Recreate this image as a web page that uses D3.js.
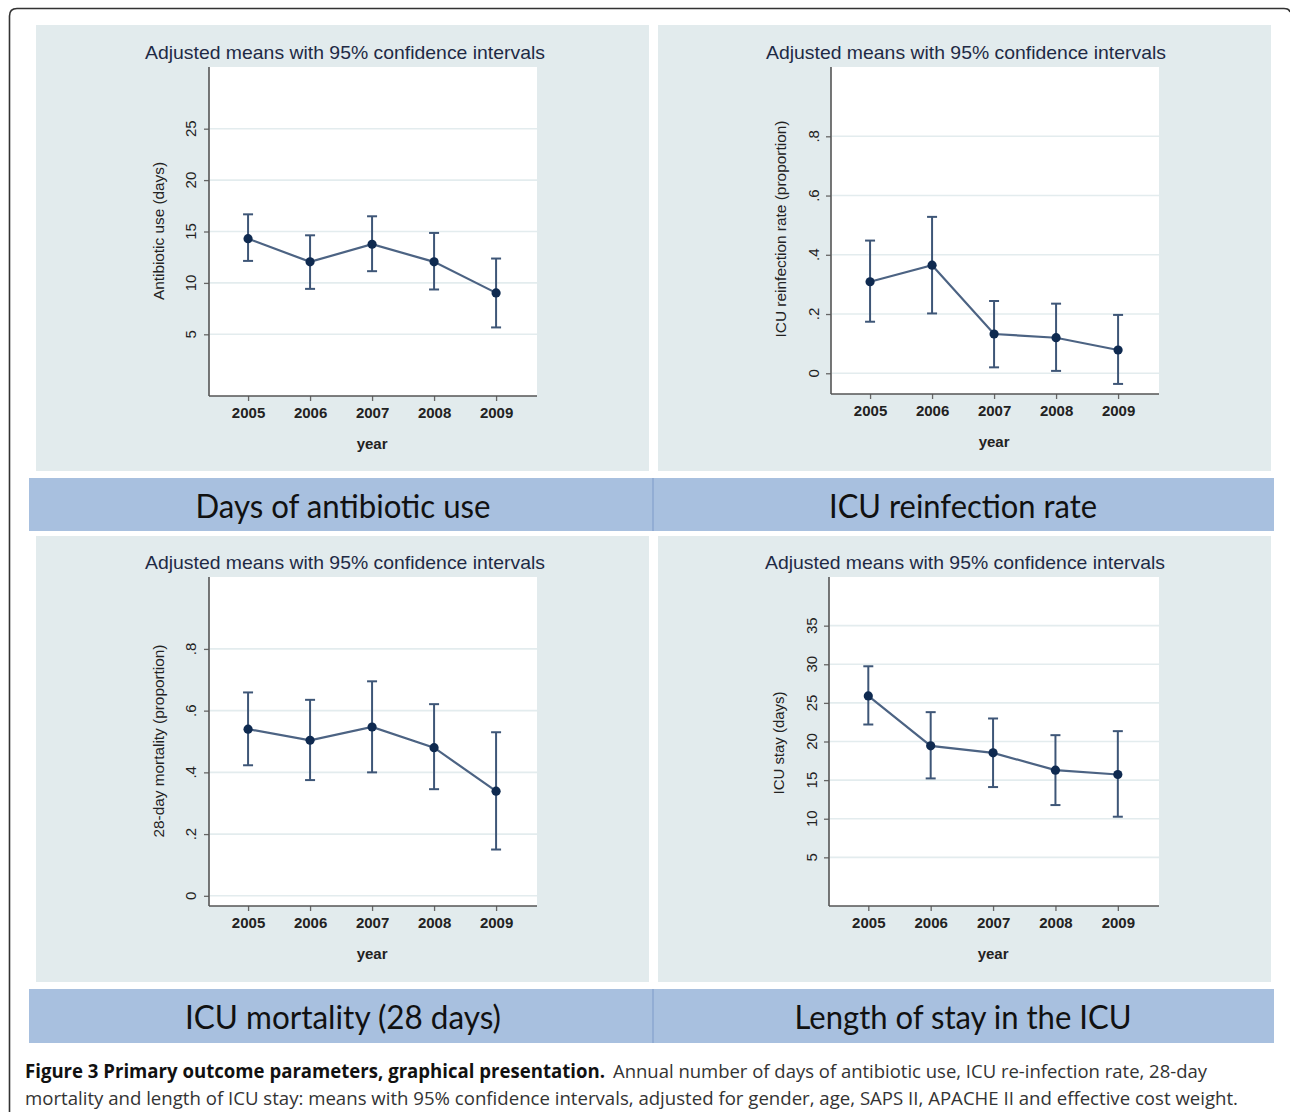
<!DOCTYPE html>
<html>
<head>
<meta charset="utf-8">
<script src="https://cdn.jsdelivr.net/npm/d3@7"></script>
<style>
  html, body { margin: 0; padding: 0; background: #ffffff; }
  svg { display: block; }
</style>
</head>
<body>
<svg id="chart" width="1290" height="1112"></svg>
<script>
// ---------------- DATA ----------------
const years = [2005, 2006, 2007, 2008, 2009];

const antibioticMean = [14.3, 12.05, 13.76, 12.05, 9.03];
const antibioticLow  = [12.14, 9.42, 11.14, 9.36, 5.67];
const antibioticHigh = [16.67, 14.63, 16.48, 14.86, 12.37];
const antibioticTicks = [5, 10, 15, 20, 25];

const reinfMean = [0.309, 0.365, 0.1325, 0.120, 0.0786];
const reinfLow  = [0.174, 0.202, 0.020, 0.008, -0.036];
const reinfHigh = [0.448, 0.528, 0.244, 0.235, 0.197];
const reinfTicks = [0, 0.2, 0.4, 0.6, 0.8];

const mortMean = [0.540, 0.504, 0.547, 0.480, 0.339];
const mortLow  = [0.423, 0.375, 0.400, 0.3455, 0.150];
const mortHigh = [0.659, 0.635, 0.695, 0.621, 0.530];
const mortTicks = [0, 0.2, 0.4, 0.6, 0.8];

const stayMean = [25.9, 19.44, 18.53, 16.29, 15.73];
const stayLow  = [22.2, 15.22, 14.1, 11.77, 10.26];
const stayHigh = [29.74, 23.8, 22.98, 20.82, 21.34];
const stayTicks = [5, 10, 15, 20, 25, 30, 35];

const plotTitle = "Adjusted means with 95% confidence intervals";
const xTitle = "year";
const bannerLabels = ["Days of antibiotic use", "ICU reinfection rate", "ICU mortality (28 days)", "Length of stay in the ICU"];
const captionBold = "Figure 3 Primary outcome parameters, graphical presentation.";
const captionRest1 = "Annual number of days of antibiotic use, ICU re-infection rate, 28-day";
const captionLine2 = "mortality and length of ICU stay: means with 95% confidence intervals, adjusted for gender, age, SAPS II, APACHE II and effective cost weight.";

// ---------------- LAYOUT ----------------
const svg = d3.select("#chart");
const FONT = "'Liberation Sans', Arial, sans-serif";
const NAVY = "#1e2a45";

// outer rounded frame
svg.append("path")
  .attr("d", "M 9.5 1112 L 9.5 16 Q 9.5 8.5 17 8.5 L 1284 8.5 Q 1289 8.5 1290 12")
  .attr("fill", "none").attr("stroke", "#333").attr("stroke-width", 1.6);

const panels = [
  { bg: [36, 25, 613, 446], ax: 209, right: 537, top: 67, bottom: 396, domain: [-1, 31],
    mean: antibioticMean, low: antibioticLow, high: antibioticHigh, ticks: antibioticTicks,
    fmt: d => String(d), ylabel: "Antibiotic use (days)", ylabelLen: 138, ylabelX: 158, ylabelY: 231, tickLabelX: 190, titleX: 345, titleY: 59 },
  { bg: [658, 25, 613, 446], ax: 831, right: 1159, top: 67, bottom: 394, domain: [-0.07, 1.034],
    mean: reinfMean, low: reinfLow, high: reinfHigh, ticks: reinfTicks,
    fmt: d => d === 0 ? "0" : String(d).replace("0.", "."), ylabel: "ICU reinfection rate (proportion)", ylabelLen: 217, ylabelX: 780, ylabelY: 229, tickLabelX: 813, titleX: 966, titleY: 59 },
  { bg: [36, 536, 613, 446], ax: 209, right: 537, top: 577, bottom: 906, domain: [-0.033, 1.033],
    mean: mortMean, low: mortLow, high: mortHigh, ticks: mortTicks,
    fmt: d => d === 0 ? "0" : String(d).replace("0.", "."), ylabel: "28-day mortality (proportion)", ylabelLen: 193, ylabelX: 158, ylabelY: 741, tickLabelX: 190, titleX: 345, titleY: 569 },
  { bg: [658, 536, 613, 446], ax: 829, right: 1159, top: 577, bottom: 906, domain: [-1.3, 41.3],
    mean: stayMean, low: stayLow, high: stayHigh, ticks: stayTicks,
    fmt: d => String(d), ylabel: "ICU stay (days)", ylabelLen: 103, ylabelX: 778, ylabelY: 743, tickLabelX: 811, titleX: 965, titleY: 569 }
];

panels.forEach(p => {
  const g = svg.append("g");
  // panel background
  g.append("rect").attr("x", p.bg[0]).attr("y", p.bg[1]).attr("width", p.bg[2]).attr("height", p.bg[3])
    .attr("fill", "#e2ebed");
  // white plot region
  g.append("rect").attr("x", p.ax).attr("y", p.top).attr("width", p.right - p.ax).attr("height", p.bottom - p.top)
    .attr("fill", "#ffffff");

  const x = d3.scaleLinear().domain([2004.37, 2009.66]).range([p.ax, p.right]);
  const y = d3.scaleLinear().domain(p.domain).range([p.bottom, p.top]);

  // title
  g.append("text").attr("x", p.titleX - 200).attr("y", p.titleY)
    .attr("textLength", 400).attr("lengthAdjust", "spacingAndGlyphs")
    .attr("font-family", FONT).attr("font-size", 19).attr("fill", NAVY).text(plotTitle);

  // grid lines
  g.selectAll(".grid").data(p.ticks).enter().append("line")
    .attr("x1", p.ax + 1).attr("x2", p.right)
    .attr("y1", d => y(d)).attr("y2", d => y(d))
    .attr("stroke", "#e3ecee").attr("stroke-width", 1.6);

  // y axis
  const yAxis = d3.axisLeft(y).tickValues(p.ticks).tickSize(5).tickFormat("");
  const ya = g.append("g").attr("transform", `translate(${p.ax},0)`).call(yAxis);
  ya.select(".domain").remove();
  ya.selectAll(".tick line").attr("stroke", "#666").attr("stroke-width", 1.3);
  g.append("line").attr("x1", p.ax).attr("x2", p.ax).attr("y1", p.top).attr("y2", p.bottom)
    .attr("stroke", "#555").attr("stroke-width", 1.6);

  // y tick labels (rotated)
  g.selectAll(".ytl").data(p.ticks).enter().append("text")
    .attr("transform", d => `translate(${p.tickLabelX},${y(d)}) rotate(-90)`)
    .attr("text-anchor", "middle").attr("dominant-baseline", "central")
    .attr("font-family", FONT).attr("font-size", 15).attr("fill", "#222")
    .text(p.fmt);

  // y label
  g.append("text").attr("transform", `translate(${p.ylabelX},${p.ylabelY + p.ylabelLen / 2}) rotate(-90)`)
    .attr("dominant-baseline", "central")
    .attr("textLength", p.ylabelLen).attr("lengthAdjust", "spacingAndGlyphs")
    .attr("font-family", FONT).attr("font-size", 15).attr("fill", "#222").text(p.ylabel);

  // x axis
  const xAxis = d3.axisBottom(x).tickValues(years).tickSize(5).tickFormat(d3.format("d")).tickPadding(6);
  const xa = g.append("g").attr("transform", `translate(0,${p.bottom})`).call(xAxis);
  xa.select(".domain").remove();
  xa.selectAll(".tick line").attr("stroke", "#666").attr("stroke-width", 1.3);
  xa.selectAll(".tick text").attr("font-family", FONT).attr("font-size", 15).attr("fill", "#222")
    .attr("font-weight", 600);
  g.append("line").attr("x1", p.ax).attr("x2", p.right).attr("y1", p.bottom).attr("y2", p.bottom)
    .attr("stroke", "#555").attr("stroke-width", 1.6);

  g.append("text").attr("x", x(2007)).attr("y", p.bottom + 53).attr("text-anchor", "middle")
    .attr("font-family", FONT).attr("font-size", 15).attr("font-weight", 600).attr("fill", "#222").text(xTitle);

  // error bars
  const CI = "#3e5677";
  years.forEach((yr, i) => {
    const cx = x(yr);
    g.append("line").attr("x1", cx).attr("x2", cx).attr("y1", y(p.low[i])).attr("y2", y(p.high[i]))
      .attr("stroke", CI).attr("stroke-width", 2);
    [p.low[i], p.high[i]].forEach(v => {
      g.append("line").attr("x1", cx - 5).attr("x2", cx + 5).attr("y1", y(v)).attr("y2", y(v))
        .attr("stroke", CI).attr("stroke-width", 2);
    });
  });

  // connecting line
  const line = d3.line().x((d, i) => x(years[i])).y(d => y(d));
  g.append("path").datum(p.mean).attr("d", line).attr("fill", "none")
    .attr("stroke", "#4c6383").attr("stroke-width", 2.2);

  // points
  g.selectAll(".pt").data(p.mean).enter().append("circle")
    .attr("cx", (d, i) => x(years[i])).attr("cy", d => y(d)).attr("r", 4.6)
    .attr("fill", "#0f2a50");
});

// ---------------- BANNERS ----------------
const banners = [
  { y: 478, h: 53 },
  { y: 989, h: 54 }
];
const bannerWidths = [295, 268, 316, 337];
banners.forEach((b, bi) => {
  svg.append("rect").attr("x", 29).attr("y", b.y).attr("width", 1245).attr("height", b.h)
    .attr("fill", "#a8c0df");
  svg.append("line").attr("x1", 653).attr("x2", 653).attr("y1", b.y).attr("y2", b.y + b.h)
    .attr("stroke", "#8ba7d1").attr("stroke-width", 1.5);
  [[343, 0], [963, 1]].forEach(([cx, k]) => {
    const idx = bi * 2 + k;
    const w = bannerWidths[idx];
    svg.append("text").attr("x", cx - w / 2).attr("y", b.y + 40)
      .attr("textLength", w).attr("lengthAdjust", "spacingAndGlyphs")
      .attr("font-family", "Lato, 'Open Sans', sans-serif").attr("font-size", 32)
      .attr("fill", "#111").text(bannerLabels[idx]);
  });
});

// ---------------- CAPTION ----------------
const capFont = "'Liberation Sans Narrow', 'Open Sans', sans-serif";
svg.append("text").attr("x", 25).attr("y", 1078).attr("font-family", capFont).attr("font-size", 19)
  .attr("font-weight", "bold").attr("fill", "#111")
  .attr("textLength", 580).attr("lengthAdjust", "spacingAndGlyphs").text(captionBold);
svg.append("text").attr("x", 613).attr("y", 1078).attr("font-family", capFont).attr("font-size", 19)
  .attr("fill", "#333")
  .attr("textLength", 594).attr("lengthAdjust", "spacingAndGlyphs").text(captionRest1);
svg.append("text").attr("x", 25).attr("y", 1105).attr("font-family", capFont).attr("font-size", 19)
  .attr("fill", "#333")
  .attr("textLength", 1213).attr("lengthAdjust", "spacingAndGlyphs").text(captionLine2);
</script>
</body>
</html>
